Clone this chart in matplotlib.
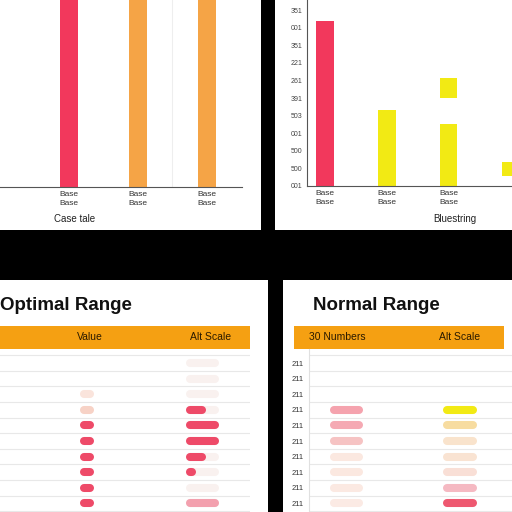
import matplotlib
matplotlib.use("Agg")
import matplotlib.pyplot as plt
import numpy as np

plt.rcParams['font.family'] = ['Liberation Sans', 'DejaVu Sans']

W = H = 512
RED = "#f2385c"
ORANGE = "#f5a446"
YELLOW = "#f2ea14"
HEADER = "#f5a012"
TRED = "#ee4a68"

# top left bars
left_names = ["Base\nBase", "Base\nBase", "Base\nBase"]
left_values = [120, 120, 120]
left_colors = [RED, ORANGE, ORANGE]

# top right bars
right_names = ["Base\nBase", "Base\nBase", "Base\nBase", ""]
right_values = [9.4, 4.3, 3.5, 0.8]
right_bottoms = [0, 0, 0, 0.57]
right_colors = [RED, YELLOW, YELLOW, YELLOW]
float_block = (2, 5.0, 1.14)  # bar index, bottom, height
right_yticks = ["001", "500", "500", "001", "503", "391", "261", "221", "351", "001", "351"]

# optimal range table
opt_value_colors = [None, None, "#fae4dc", "#f7d2c6", TRED, TRED, TRED, TRED, TRED, TRED]
opt_alt_fill = [0, 0, 0, 0.6, 1, 1, 0.6, 0.15, 0, 1]
opt_alt_colors = [TRED] * 9 + ["#f3a0ae"]

# normal range table
norm_labels = ["211"] * 10
norm_col1 = [None, None, None, "#f5a3ae", "#f5a9b3", "#f6c3c3", "#fbe8e0", "#fbe8e0", "#fbe9e2", "#fbeae4"]
norm_col2 = [None, None, None, YELLOW, "#f7dca0", "#f9e3cc", "#f9e3d2", "#f9dfd6", "#f5b9c2", "#ee5870"]

fig = plt.figure(figsize=(5.12, 5.12), dpi=100, facecolor="black")


def px_axes(x0, y0, x1, y1, **kw):
    return fig.add_axes([x0 / W, 1 - y1 / H, (x1 - x0) / W, (y1 - y0) / H], **kw)


def panel(x0, y0, x1, y1):
    a = px_axes(x0, y0, x1, y1, facecolor="white")
    a.set_xticks([])
    a.set_yticks([])
    for s in a.spines.values():
        s.set_visible(False)
    return a


# ---- top left ----
panel(0, 0, 261, 230)
ax = px_axes(0, 0, 242, 187)
ax.set_facecolor("none")
x = np.arange(len(left_values))
ax.axvline(1.5, color="#eeeeee", lw=0.8)
ax.bar(x, left_values, width=0.26, color=left_colors)
ax.set_xlim(-1, 2.51)
ax.set_ylim(0, 100)
ax.set_yticks([])
ax.set_xticks(x, left_names, fontsize=6, color="#333333", linespacing=1.4)
ax.tick_params(axis="x", length=0, pad=3)
for s in ["top", "right", "left"]:
    ax.spines[s].set_visible(False)
ax.spines["bottom"].set_color("#555555")
fig.text(75 / W, 1 - 219 / H, "Case tale", fontsize=7, ha="center", va="center", color="#222222")

# ---- top right ----
panel(275, 0, 512, 230)
ax = px_axes(307, 0, 512, 186)
ax.set_facecolor("none")
x = np.arange(len(right_values))
ax.bar(x, right_values, bottom=right_bottoms, width=0.28, color=right_colors)
ax.bar(float_block[0], float_block[2], bottom=float_block[1], width=0.28, color=YELLOW)
ax.set_xlim(-0.29, 3.02)
ax.set_ylim(0, 10.57)
ax.set_yticks(np.arange(11), right_yticks, fontsize=5, color="#444444")
ax.set_xticks(x, right_names, fontsize=6, color="#333333", linespacing=1.4)
ax.tick_params(length=0, pad=3)
for s in ["top", "right"]:
    ax.spines[s].set_visible(False)
ax.spines["bottom"].set_color("#555555")
ax.spines["left"].set_color("#555555")
fig.text(455 / W, 1 - 219 / H, "Bluestring", fontsize=7, ha="center", va="center", color="#222222")


def pill(a, x0, x1, y, color):
    a.plot([x0 + 4, x1 - 4], [y, y], lw=5.8, solid_capstyle="round", color=color)


def table_axes(x0, x1):
    a = px_axes(x0, 349, x1, 512)
    a.set_facecolor("none")
    a.set_xlim(x0, x1)
    a.set_ylim(9.55, -0.9)
    for k in range(11):
        a.axhline(k - 0.5, color="#e8e8e8", lw=0.8)
    for s in a.spines.values():
        s.set_visible(False)
    a.set_xticks([])
    return a


def header(x0, x1, cols):
    h = px_axes(x0, 326, x1, 349, facecolor=HEADER)
    h.set_xlim(x0, x1)
    h.set_ylim(0, 1)
    h.set_xticks([])
    h.set_yticks([])
    for s in h.spines.values():
        s.set_visible(False)
    for cx, txt, ha in cols:
        h.text(cx, 0.5, txt, ha=ha, va="center", fontsize=7.5, color="#2a1a00")


# ---- bottom left ----
panel(0, 280, 268, 512)
fig.text(0, 1 - 305 / H, "Optimal Range", fontsize=13.5, fontweight="bold", va="center", color="#111111")
header(0, 250, [(90, "Value", "center"), (211, "Alt Scale", "center")])
ax = table_axes(0, 250)
ax.set_yticks([])
for k, c in enumerate(opt_value_colors):
    if c:
        pill(ax, 80, 94, k, c)
for k, (f, c) in enumerate(zip(opt_alt_fill, opt_alt_colors)):
    pill(ax, 186, 219, k, "#f9f1ef")
    if f > 0:
        pill(ax, 186, 186 + max(10, 33 * f), k, c)

# ---- bottom right ----
panel(283, 280, 512, 512)
fig.text(313 / W, 1 - 305 / H, "Normal Range", fontsize=13.5, fontweight="bold", va="center", color="#111111")
header(294, 504, [(309, "30 Numbers", "left"), (460, "Alt Scale", "center")])
ax = table_axes(309, 512)
ax.spines["left"].set_visible(True)
ax.spines["left"].set_color("#e0e0e0")
ax.set_yticks(np.arange(10), norm_labels, fontsize=5.5, color="#333333")
ax.tick_params(axis="y", length=0, pad=4)
for k, c in enumerate(norm_col1):
    if c:
        pill(ax, 330, 363, k, c)
for k, c in enumerate(norm_col2):
    if c:
        pill(ax, 443, 477, k, c)

fig.savefig("out.png", dpi=100, facecolor="black")
